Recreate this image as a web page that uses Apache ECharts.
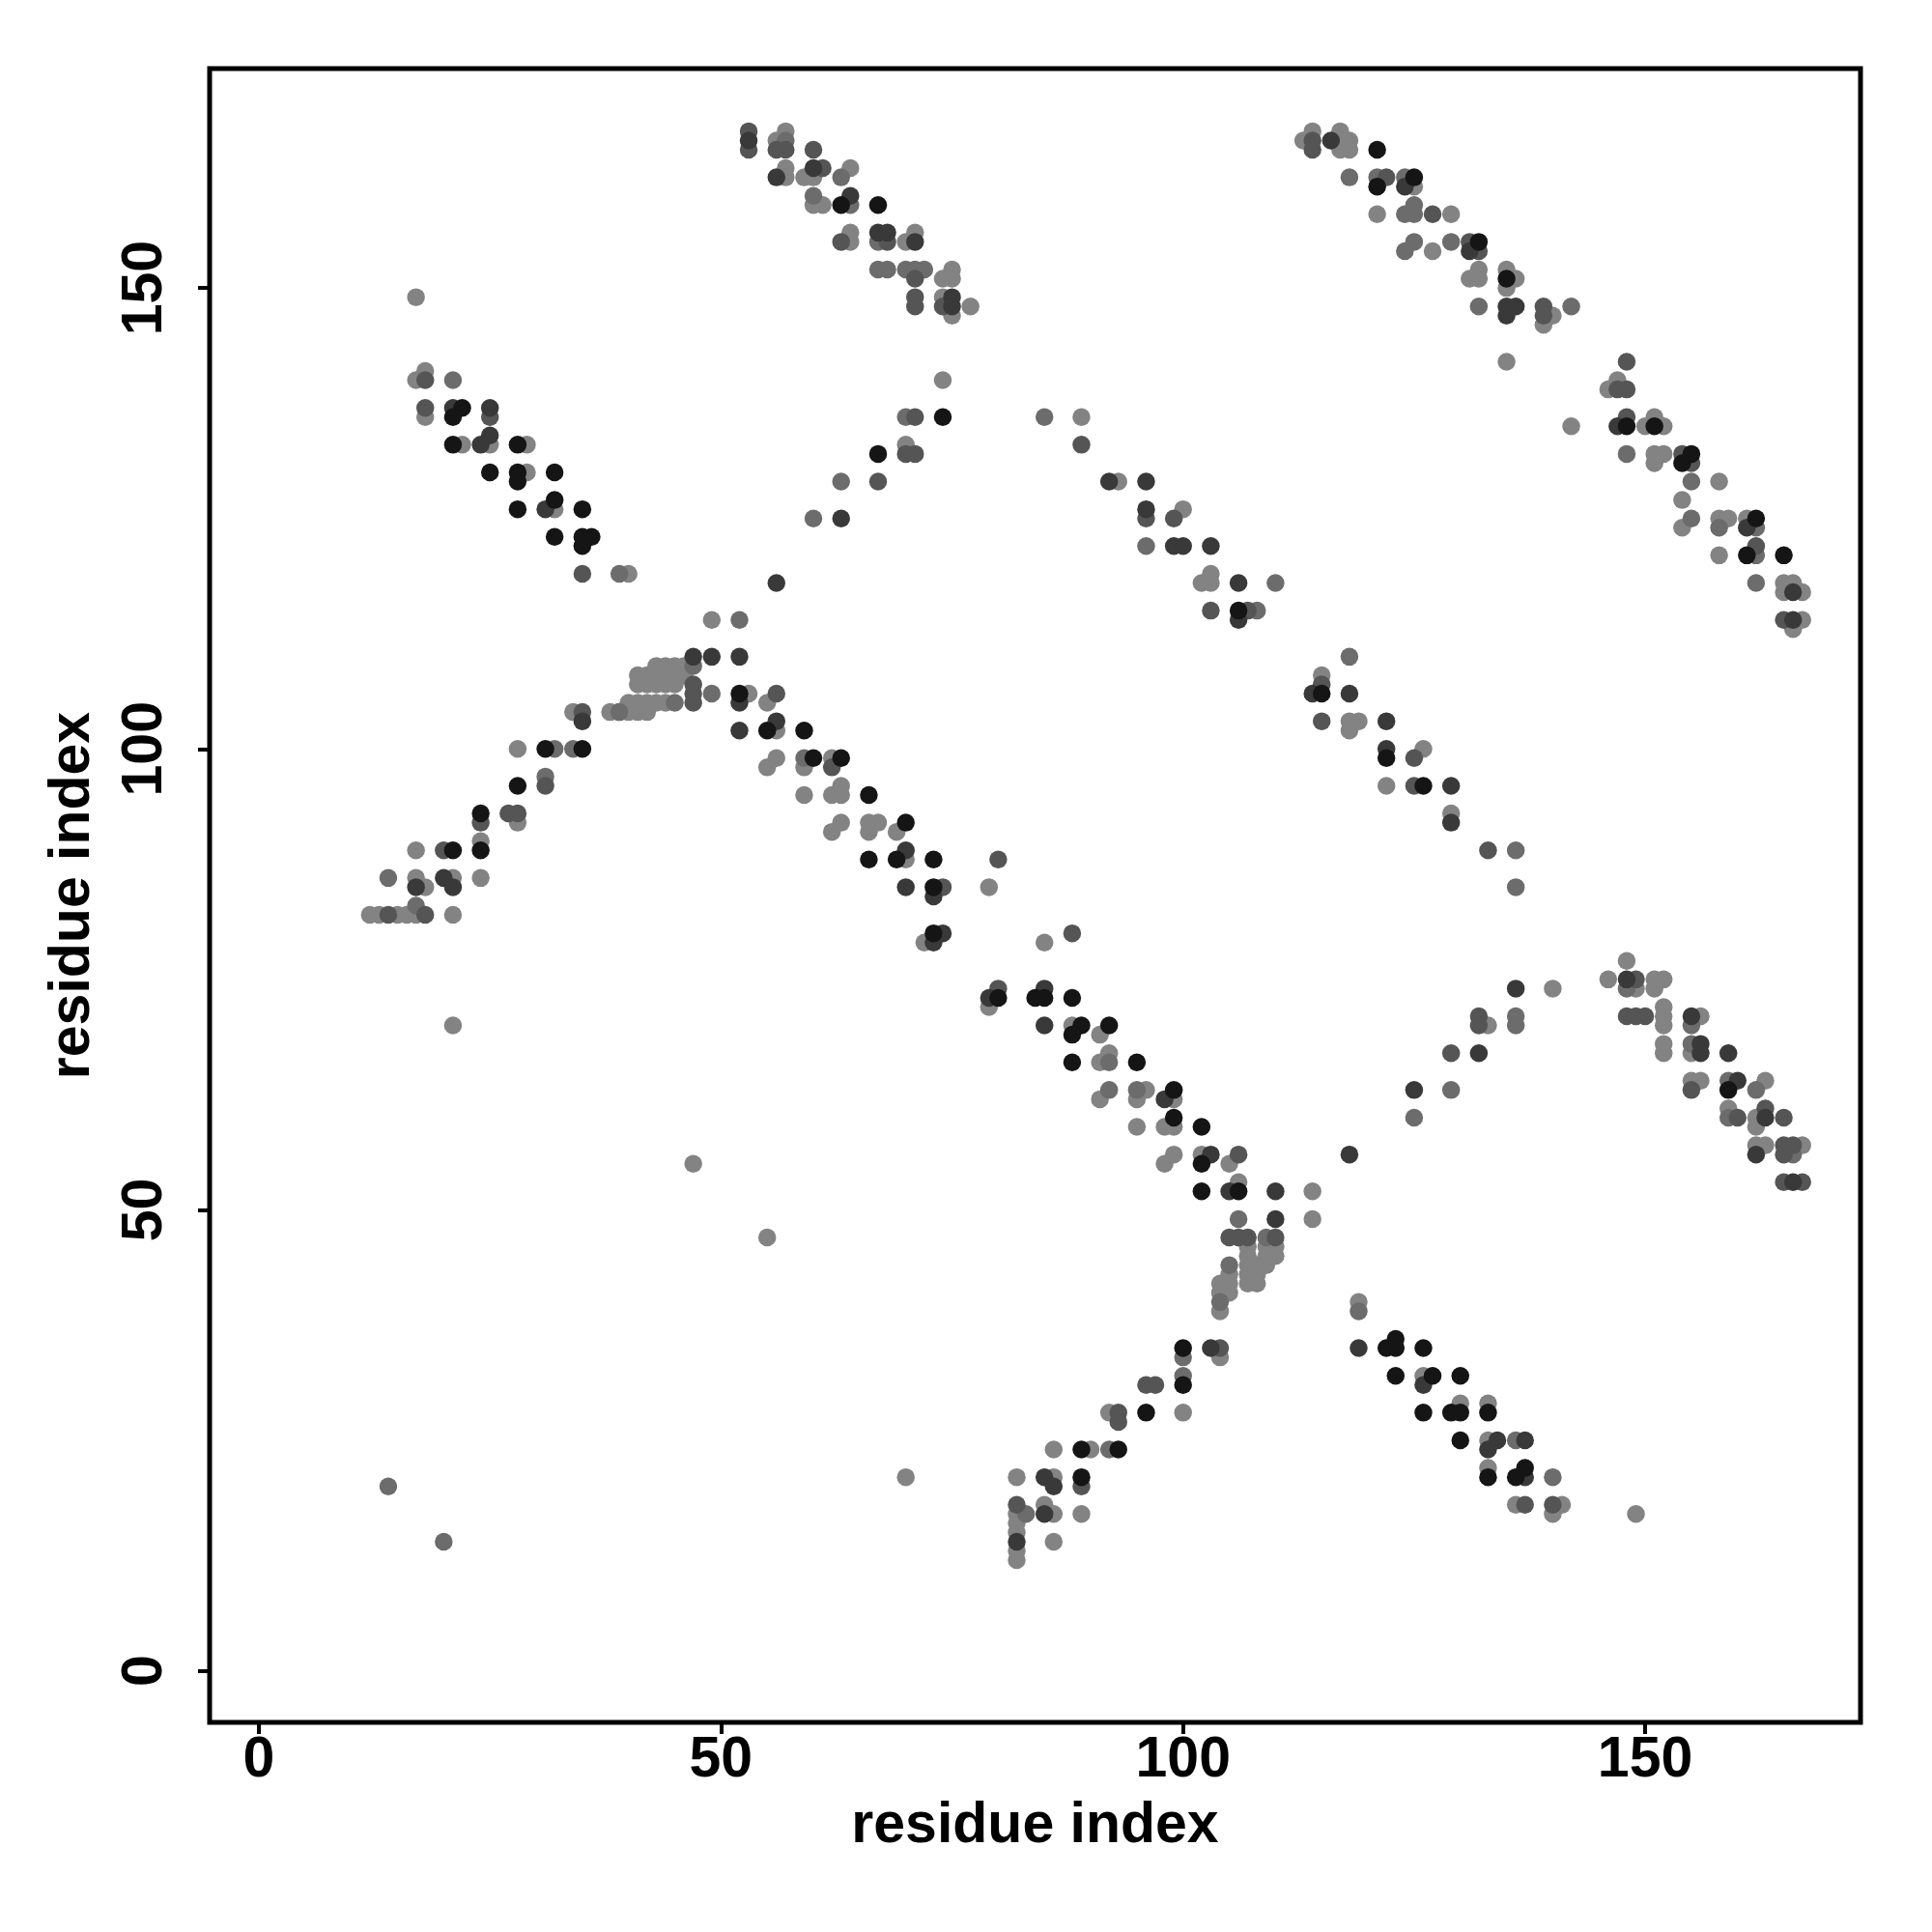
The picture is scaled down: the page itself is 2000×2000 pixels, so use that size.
<!DOCTYPE html>
<html>
<head>
<meta charset="utf-8">
<script src="https://cdn.jsdelivr.net/npm/echarts@6/dist/echarts.min.js"></script>
<style>html,body{margin:0;padding:0;background:#fff}#c{width:2000px;height:2000px}</style>
</head>
<body>
<div id="c"></div>
<script>
// tick labels
const tickValues = [0, 50, 100, 150];
const axisTitleX = 'residue index';
const axisTitleY = 'residue index';

// contact points by grey level: [residue i, residue j]
const lightPts = [
[17,149],[17,140],[18,141],[18,136],[22,133],[25,133],[29,133],[29,130],[32,126],[40,119],
[56,166],[57,167],[57,163],[57,162],[59,162],[60,162],[64,163],[60,159],[61,159],[64,156],[64,155],[70,155],[71,156],
[74,151],[75,152],[75,151],[74,149],[75,147],[77,148],[74,140],[70,133],[49,114],
[113,166],[114,167],[117,167],[117,166],[118,166],[118,165],[117,165],[125,161],[121,158],[127,154],
[89,136],[93,129],[100,126],[102,118],[103,119],[103,118],
[129,158],[131,151],[132,152],[132,151],[135,152],[136,151],[135,150],[140,147],[139,146],[135,142],
[146,139],[147,140],[142,135],[150,135],[151,136],[152,135],[151,132],[152,132],[151,131],[158,129],[154,127],
[154,124],[158,125],[159,125],[161,125],[158,121],[165,118],[166,118],[165,117],[167,117],[167,114],
[166,113],[129,93],[148,77],[146,75],[151,75],[152,75],[149,74],[151,74],[152,72],[152,71],[152,70],[156,71],
[152,68],[152,67],[155,67],[155,64],[156,64],[163,64],[159,61],[162,60],[162,59],[162,57],[163,57],[167,57],
[140,74],[133,70],
[130,29],[133,29],[133,25],[133,22],[136,18],[141,18],[140,17],[149,17],
[106,53],[114,52],[114,49],
[107,46],[107,45],[107,44],[107,43],[107,42],[108,44],[108,43],[108,42],[109,46],[109,45],[109,44],[110,46],[110,45],
[105,43],[105,42],[105,41],[104,42],[104,41],[104,39],[104,34],[92,28],[100,28],[86,24],[90,24],[86,21],
[85,18],[86,17],[89,17],[86,14],[119,40],[126,32],
[115,108],[118,103],[119,103],[118,102],[126,100],[122,96],[85,79],[88,70],[91,69],[91,66],[92,67],
[91,62],[96,63],[95,62],[99,62],[95,59],[98,59],[99,59],[99,56],[98,55],[102,56],[105,55],
[43,109],[44,109],[45,109],[46,109],[41,108],[42,108],[43,108],[44,108],[45,108],[46,108],
[41,107],[42,107],[43,107],[44,107],[45,107],[40,105],[41,105],[42,105],[43,105],[44,105],
[38,104],[39,104],[40,104],[41,104],[42,104],[53,106],[55,105],[56,102],[56,99],[55,98],[59,98],[62,99],
[59,95],[62,95],[63,96],[63,95],[63,92],[62,91],[66,92],[67,92],[66,91],[69,91],[70,88],[79,85],[72,79],[79,72],[47,55],
[34,104],[28,100],[28,92],[24,90],[17,89],[17,86],[21,86],[24,86],[18,85],[12,82],[13,82],[15,82],[16,82],[17,82],[21,82],[21,70],
[55,47],[70,21],[82,21],[82,17],[82,16],[82,15],[82,13],[82,12]
];
const greyPts = [
[21,140],[39,119],[57,166],[63,162],[60,160],[64,159],[67,155],[67,152],[68,152],[70,152],[71,152],[72,152],
[70,136],[63,129],[60,125],[52,114],
[118,162],[121,162],[124,162],[124,158],[125,159],[125,158],[125,155],[124,154],[85,136],[96,122],[110,118],[108,115],
[129,155],[132,148],[142,148],[148,132],[155,129],[155,125],[158,124],[162,124],[162,121],[162,118],
[136,89],[136,85],[148,74],[155,70],[155,68],[159,64],[162,63],[159,60],[166,56],[136,71],[136,70],[129,63],
[136,25],[140,21],[106,49],[109,47],[105,44],[104,40],[100,34],[100,32],[92,24],[83,17],[119,39],
[118,110],[92,66],[92,63],[95,63],[125,60],[47,109],[45,105],[49,106],[59,99],
[39,104],[32,100],[34,100],[31,97],[14,86],[17,83],[14,20],[20,14]
];
const midPts = [
[18,140],[18,137],[25,136],[35,119],
[53,167],[53,165],[56,165],[57,165],[60,165],[61,163],[63,155],[68,155],[71,151],[71,149],[71,148],[74,148],
[71,136],[70,132],[71,132],[67,129],
[114,166],[114,165],[122,162],[127,158],[89,133],[96,125],[99,125],[103,115],[107,115],
[131,155],[132,154],[139,148],[139,147],[148,142],[147,139],[148,139],[148,136],[154,132],[155,131],[162,122],[165,114],
[133,89],[149,75],[148,71],[149,71],[150,71],[155,63],[160,60],[163,61],[165,60],[165,57],[166,57],[165,56],
[132,71],[132,70],[129,67],
[165,53],[167,53],[137,18],[140,18],[105,47],[106,47],[107,47],[110,47],[104,35],[96,31],[97,31],[93,28],[93,27],[89,20],[82,18],
[115,107],[115,103],[125,99],[125,96],[88,80],[106,56],
[47,107],[47,106],[47,105],[56,106],[62,98],[80,88],[74,85],[80,74],
[35,104],[31,96],[24,92],[27,93],[28,93],[20,89],[14,82],[18,82]
];
const darkPts = [
[21,137],[25,137],[24,133],[25,134],[31,126],
[53,166],[56,162],[60,163],[64,160],[67,156],[68,156],[71,155],[75,149],[75,148],[63,125],[56,118],
[116,166],[124,161],[92,129],[96,129],[96,126],[99,122],[100,122],[103,122],[106,118],[106,114],
[131,154],[135,148],[136,148],[135,147],[147,135],[161,124],[166,117],[166,114],
[129,96],[129,92],[148,75],[155,71],[156,68],[156,67],[159,67],[160,64],[163,60],[162,56],[136,74],[132,67],
[166,53],[134,25],[133,24],[137,25],[137,21],
[105,52],[110,52],[110,49],[103,35],[85,21],[86,20],[85,17],[82,14],[119,35],[126,31],
[114,106],[118,106],[122,103],[122,100],[85,74],[85,70],[98,62],[103,56],[125,63],[118,56],
[47,110],[49,110],[52,110],[52,105],[56,103],[52,102],[70,89],[70,85],[73,84],[74,80],[73,79],[79,73],
[35,103],[20,86],[17,85],[21,85]
];
const blackPts = [
[22,137],[21,136],[21,133],[28,133],[25,130],[28,130],[28,129],[32,130],[28,126],[32,127],[35,126],
[32,123],[35,123],[36,123],[35,122],
[63,159],[67,159],[74,136],[67,132],
[121,165],[121,161],[125,162],[106,115],
[132,155],[135,151],[148,135],[151,135],[155,132],[154,131],[162,125],[161,121],[165,121],
[159,63],
[127,32],[130,32],[129,28],[130,28],[133,28],[130,25],[133,21],[136,21],[137,22],
[102,52],[106,52],[100,35],[100,31],[96,28],[89,24],[93,24],[89,21],
[122,35],[123,36],[123,35],[126,35],[123,32],[126,28],
[115,106],[122,99],[126,96],[84,73],[85,73],[88,73],[89,70],[92,70],[88,69],[88,66],[95,66],
[99,63],[99,60],[102,59],[102,55],
[52,106],[55,102],[59,102],[60,99],[63,99],[66,95],[70,92],[66,88],[69,88],[73,88],[73,85],[73,80],[80,73],
[31,100],[35,100],[28,96],[24,93],[24,89],[21,89]
];

const groups = [
  {name: 'light', data: lightPts, color: '#838383'},
  {name: 'grey', data: greyPts, color: '#6c6c6c'},
  {name: 'mid', data: midPts, color: '#555555'},
  {name: 'dark', data: darkPts, color: '#393939'},
  {name: 'black', data: blackPts, color: '#151515'}
];

const FONT = "'Liberation Sans', Arial, Helvetica, sans-serif";
const chart = echarts.init(document.getElementById('c'), null, {renderer: 'canvas'});

function axisCommon(labelRotate, labelMargin) {
  return {
    type: 'value',
    axisLine: {show: false, onZero: false},
    splitLine: {show: false},
    axisTick: {show: true, inside: false, length: 12, lineStyle: {color: '#000', width: 4}, customValues: tickValues},
    axisLabel: {show: true, customValues: tickValues, rotate: labelRotate, margin: labelMargin,
      color: '#000', fontSize: 59, fontWeight: 'bold', fontFamily: FONT},
    nameLocation: 'middle',
    nameTextStyle: {color: '#000', fontSize: 59, fontWeight: 'bold', fontFamily: FONT}
  };
}

const xAxis = Object.assign(axisCommon(0, 10), {min: -5.33, max: 173.3, name: axisTitleX, nameGap: 78});
const yAxis = Object.assign(axisCommon(90, 37), {min: -5.6, max: 173.8, name: axisTitleY, nameGap: 112});

chart.setOption({
  backgroundColor: '#fff',
  animation: false,
  grid: {left: 217, top: 71, width: 1709, height: 1712, show: true, borderColor: '#000', borderWidth: 5, backgroundColor: 'transparent'},
  xAxis: xAxis,
  yAxis: yAxis,
  series: groups.map(g => ({
    type: 'scatter',
    name: g.name,
    data: g.data,
    symbol: 'circle',
    symbolSize: 18.5,
    itemStyle: {color: g.color, opacity: 1},
    emphasis: {disabled: true},
    silent: true
  }))
});
</script>
</body>
</html>
